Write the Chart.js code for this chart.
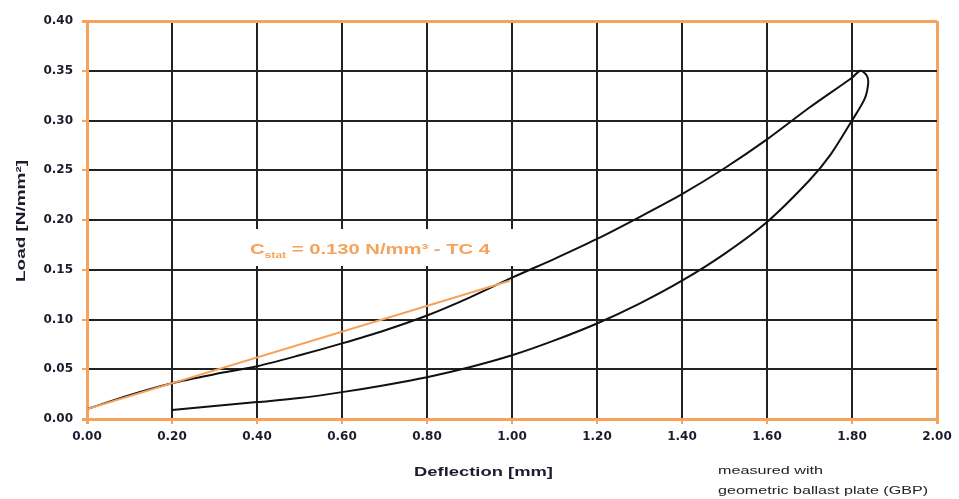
<!DOCTYPE html>
<html>
<head>
<meta charset="utf-8">
<script src="https://cdn.jsdelivr.net/npm/chart.js@4"></script>
<style>
  html, body { margin: 0; padding: 0; background: #fff; }
  #wrap { width: 959px; height: 499px; }
</style>
</head>
<body>
<div id="wrap"><canvas id="chart" width="959" height="499"></canvas></div>
<script>
// tick positions
const xTicks = [0, 0.2, 0.4, 0.6, 0.8, 1.0, 1.2, 1.4, 1.6, 1.8, 2.0];
const yTicks = [0, 0.05, 0.10, 0.15, 0.20, 0.25, 0.30, 0.35, 0.40];

// loading branch (deflection mm / load N/mm2)
const loadX = [0, 0.1, 0.2, 0.3, 0.4, 0.5, 0.6, 0.7, 0.8, 0.9, 1.0, 1.1, 1.2, 1.3, 1.4, 1.5, 1.6, 1.7, 1.8, 1.82];
const loadY = [0.010, 0.024, 0.036, 0.045, 0.053, 0.064, 0.076, 0.089, 0.104, 0.122, 0.142, 0.161, 0.181, 0.203, 0.226, 0.252, 0.281, 0.313, 0.343, 0.350];

// unloading branch
const unloadX = [1.82, 1.835, 1.838, 1.83, 1.80, 1.75, 1.7, 1.6, 1.5, 1.4, 1.3, 1.2, 1.1, 1.0, 0.9, 0.8, 0.7, 0.6, 0.5, 0.4, 0.3, 0.2];
const unloadY = [0.350, 0.345, 0.337, 0.322, 0.300, 0.266, 0.240, 0.198, 0.166, 0.139, 0.116, 0.096, 0.079, 0.064, 0.052, 0.042, 0.034, 0.027, 0.021, 0.017, 0.013, 0.009];

// secant modulus line C_stat
const secantX = [0, 0, 0.995];
const secantY = [0, 0.010, 0.139];

const ORANGE = '#f5a35c';
const DARK = '#1c1c2e';

const pts = (xs, ys) => xs.map((x, i) => ({ x: x, y: ys[i] }));

// draw text squeezed/stretched to a given width
function fitText(ctx, str, x, y, w, font, color) {
    ctx.font = font;
    const m = ctx.measureText(str).width;
    ctx.save();
    ctx.translate(x, y);
    ctx.scale(w / m, 1);
    ctx.fillStyle = color;
    ctx.textAlign = 'left';
    ctx.textBaseline = 'alphabetic';
    ctx.fillText(str, 0, 0);
    ctx.restore();
}

const annotations = {
    id: 'annotations',
    beforeDatasetsDraw(chart) {
        const ctx = chart.ctx;
        // white box behind the label
        ctx.save();
        ctx.fillStyle = '#fff';
        ctx.fillRect(178, 229, 342, 37);
        ctx.restore();
    },
    afterDraw(chart) {
        const ctx = chart.ctx;
        // label with subscript
        const big = 'bold 15px "Liberation Sans", Arial, sans-serif';
        const small = 'bold 9px "Liberation Sans", Arial, sans-serif';
        ctx.font = big;
        const wC = ctx.measureText('C').width;
        const rest = ' = 0.130 N/mm³ - TC 4';
        const wR = ctx.measureText(rest).width;
        ctx.font = small;
        const wS = ctx.measureText('stat').width;
        const sx = 240 / (wC + wS + wR);
        ctx.save();
        ctx.translate(250, 254);
        ctx.scale(sx, 1);
        ctx.fillStyle = ORANGE;
        ctx.textBaseline = 'alphabetic';
        ctx.font = big;
        ctx.fillText('C', 0, 0);
        ctx.font = small;
        ctx.fillText('stat', wC, 4);
        ctx.font = big;
        ctx.fillText(rest, wC + wS, 0);
        ctx.restore();

        // axis titles
        fitText(ctx, 'Deflection [mm]', 414, 476, 139, 'bold 13px "Liberation Sans", Arial, sans-serif', DARK);
        ctx.save();
        ctx.translate(25, 282);
        ctx.rotate(-Math.PI / 2);
        fitText(ctx, 'Load [N/mm²]', 0, 0, 122, 'bold 12px "Liberation Sans", Arial, sans-serif', DARK);
        ctx.restore();

        // note
        fitText(ctx, 'measured with', 718, 474, 105, '11px "Liberation Sans", Arial, sans-serif', '#222');
        fitText(ctx, 'geometric ballast plate (GBP)', 718, 494, 210, '11px "Liberation Sans", Arial, sans-serif', '#222');
    }
};

const tickFont = { family: '"DejaVu Sans", sans-serif', weight: 'bold', size: 12 };

new Chart(document.getElementById('chart'), {
    type: 'scatter',
    data: {
        datasets: [
            {
                data: pts(secantX, secantY),
                showLine: true,
                borderColor: ORANGE,
                borderWidth: 2,
                pointRadius: 0,
                tension: 0,
                order: 0
            },
            {
                data: pts(loadX, loadY).concat(pts(unloadX, unloadY).slice(1)),
                showLine: true,
                borderColor: '#111',
                borderWidth: 2,
                pointRadius: 0,
                tension: 0.3,
                order: 1
            }
        ]
    },
    options: {
        responsive: false,
        animation: false,
        layout: { padding: { left: 0, top: 21, right: 22, bottom: 0 } },
        plugins: {
            legend: { display: false },
            tooltip: { enabled: false }
        },
        scales: {
            x: {
                type: 'linear',
                min: 0,
                max: 2.0,
                afterBuildTicks: s => { s.ticks = xTicks.map(v => ({ value: v })); },
                afterFit: s => { s.height = 80; },
                border: { display: true, color: ORANGE, width: 3 },
                grid: {
                    color: c => (c.index === 0 || c.index === xTicks.length - 1) ? ORANGE : '#222',
                    lineWidth: c => (c.index === 0 || c.index === xTicks.length - 1) ? 3 : 2,
                    tickColor: ORANGE,
                    tickLength: 5,
                    drawTicks: true
                },
                ticks: {
                    font: tickFont,
                    color: DARK,
                    padding: 6,
                    maxRotation: 0,
                    callback: v => Number(v).toFixed(2)
                }
            },
            y: {
                type: 'linear',
                min: 0,
                max: 0.40,
                afterBuildTicks: s => { s.ticks = yTicks.map(v => ({ value: v })); },
                afterFit: s => { s.width = 87; },
                border: { display: true, color: ORANGE, width: 3 },
                grid: {
                    color: c => (c.index === 0 || c.index === yTicks.length - 1) ? ORANGE : '#222',
                    lineWidth: c => (c.index === 0 || c.index === yTicks.length - 1) ? 3 : 2,
                    tickColor: ORANGE,
                    tickLength: 5,
                    drawTicks: true
                },
                ticks: {
                    font: tickFont,
                    color: DARK,
                    padding: 9,
                    callback: v => Number(v).toFixed(2)
                }
            }
        }
    },
    plugins: [annotations]
});
</script>
</body>
</html>
